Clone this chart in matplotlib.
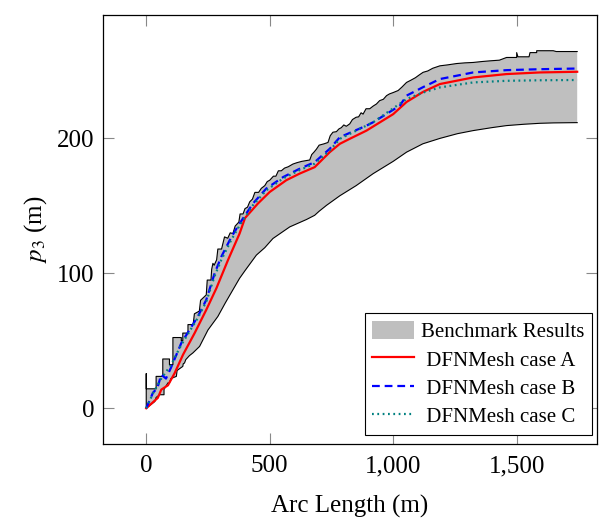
import matplotlib.pyplot as plt
import matplotlib.ticker as mticker
from matplotlib.patches import Patch
from matplotlib.lines import Line2D
import numpy as np

plt.rcParams['font.family'] = ['Liberation Serif', 'DejaVu Serif']
plt.rcParams['mathtext.fontset'] = 'stix'

# benchmark envelope, upper (jagged) and lower boundary
upper_x = [0, 0, 0, 40, 40, 67, 67, 94, 94, 108, 108, 142, 142, 148, 148, 169, 169, 190, 195, 215,
           220, 243, 247, 262, 265, 270, 275, 285, 290, 305, 317, 330, 340, 351, 360, 375, 380, 392,
           400, 410, 419, 430, 440, 455, 466, 480, 490, 500, 515, 525, 535, 547, 560, 575, 594, 610,
           630, 662, 670, 680, 689, 700, 720, 736, 745, 756, 770, 780, 790, 800, 810, 824, 835, 850,
           860, 870, 878, 890, 905, 919, 932, 945, 960, 973, 985, 1000, 1020, 1035, 1054, 1070, 1090,
           1105, 1121, 1140, 1160, 1189, 1220, 1257, 1290, 1324, 1360, 1392, 1430, 1459, 1500, 1500,
           1505, 1550, 1554, 1581, 1581, 1648, 1660, 1745]
upper_y = [0, 25.6, 14.4, 14.4, 23.6, 23.6, 36.5, 36.5, 32.3, 32.3, 52.4, 52.4, 50, 50, 55.7, 55.7,
           62, 62, 70, 72, 80, 84, 95, 95, 103, 107.4, 106, 110, 118, 118, 127, 126, 130, 129.5, 135,
           138, 144, 144, 148, 149, 153, 155, 160, 160, 163, 165, 168, 169, 172, 172, 176, 176, 178,
           179, 181, 182, 183, 184, 188, 190, 192, 195, 196, 197, 202, 204.6, 205, 207, 208, 210, 209,
           210.8, 214, 215.7, 216, 219, 218, 222, 222, 224, 225.5, 228, 229, 231.7, 233, 234, 235.5,
           238, 241.5, 243, 245, 247, 249, 250, 252, 253.8, 254.5, 255.5, 256, 256.3, 257, 257.5, 258,
           260, 260, 263.6, 260.5, 260.5, 263.6, 263.6, 265, 265, 264.4, 264.4]
lower_x = [0, 35, 40, 55, 72, 72, 88, 94, 100, 122, 125, 148, 150, 155, 160, 175, 189, 216, 250, 290,
           320, 358, 378, 400, 446, 480, 513, 581, 649, 682, 700, 730, 784, 850, 919, 1000, 1054, 1120,
           1189, 1260, 1324, 1400, 1459, 1530, 1594, 1650, 1745]
lower_y = [0, 5, 8, 10, 10, 14, 18.8, 18.7, 22, 23.6, 28, 31, 33, 33.5, 36, 39, 41, 45.8, 58, 68,
           78, 90, 96.3, 102, 113.5, 119, 125.8, 134.4, 139.9, 143, 146, 150.4, 157.5, 165, 173.9,
           183, 189.8, 196, 200, 203.5, 205.8, 208, 209.5, 210.5, 211.2, 211.5, 211.7]

case_a_x = [0, 47, 61, 88, 115, 149, 196, 243, 284, 331, 378, 400, 452, 500, 567, 621, 682, 743,
            784, 824, 892, 1000, 1054, 1121, 1189, 1324, 1459, 1594, 1745]
case_a_y = [0, 7.7, 13.8, 17, 26, 39.7, 55.7, 72.9, 88.9, 109.8, 129.5, 141, 151.7, 160.3, 169,
            173.9, 178.7, 189.8, 196, 199.7, 205.8, 218, 227, 234.5, 240.3, 245.2, 247.7, 248.9, 249.4]

case_b_x = [0, 27, 45, 61, 80, 100, 142, 175, 209, 243, 277, 304, 345, 378, 432, 486, 554, 621,
            682, 743, 784, 892, 919, 1027, 1054, 1121, 1189, 1324, 1459, 1594, 1745]
case_b_y = [0, 11.4, 15, 24.9, 22, 30, 48.3, 58, 68, 80.3, 100, 112.3, 127, 136.9, 151.7, 162.8,
            171.3, 177.5, 182.4, 192.3, 200.9, 209.5, 212, 224.3, 231.7, 238, 244, 248.9, 250.6,
            251.3, 251.8]

case_c_x = [0, 30, 61, 100, 142, 209, 243, 277, 304, 345, 378, 432, 486, 554, 621, 682, 743, 784,
            919, 1054, 1121, 1189, 1324, 1459, 1594, 1745]
case_c_y = [0, 12, 22, 32, 47, 67, 79, 98, 110, 125, 135.5, 150.5, 161.5, 170.3, 176.5, 181.3, 191,
            199.7, 212, 229.2, 234, 237.8, 241.5, 242.7, 243.1, 243.3]

fig = plt.figure(figsize=(6.11, 5.18), dpi=100)
ax = fig.add_axes([0.1686, 0.1429, 0.8084, 0.8282])

poly_x = np.concatenate([upper_x, lower_x[::-1]])
poly_y = np.concatenate([upper_y, lower_y[::-1]])
ax.fill(poly_x, poly_y, facecolor='#bfbfbf', edgecolor='none', zorder=1)
ax.plot(upper_x, upper_y, color='black', linewidth=0.8, zorder=2)
ax.plot(lower_x, lower_y, color='black', linewidth=0.8, zorder=2)

ax.plot(case_a_x, case_a_y, color='red', linewidth=1.6, zorder=3)
ax.plot(case_b_x, case_b_y, color='blue', linewidth=1.6, linestyle=(0, (3.5, 2.2)), zorder=4)
ax.plot(case_c_x, case_c_y, color='#008080', linewidth=1.6, linestyle=(0, (0.8, 1.6)), zorder=5)

ax.set_xlim(-175, 1825)
ax.set_ylim(-26.5, 291.5)
ax.set_xticks([0, 500, 1000, 1500])
ax.set_yticks([0, 100, 200])
ax.xaxis.set_major_formatter(mticker.FuncFormatter(lambda v, p: f'{int(v):,}'))
ax.tick_params(direction='in', length=8, width=0.8, color='#888888', labelsize=18,
               top=True, right=True, pad=8)
ax.tick_params(axis='y', pad=6)
for s in ax.spines.values():
    s.set_linewidth(0.9)

ax.set_xlabel('Arc Length (m)', fontsize=18, labelpad=13)
ax.set_ylabel('$p_3$ (m)', fontsize=18, labelpad=6)

handles = [Patch(facecolor='#bfbfbf', edgecolor='none'),
           Line2D([], [], color='red', linewidth=1.6),
           Line2D([], [], color='blue', linewidth=1.6, linestyle=(0, (3.5, 2.2))),
           Line2D([], [], color='#008080', linewidth=1.6, linestyle=(0, (0.8, 1.6)))]
labels = ['Benchmark Results', ' DFNMesh case A', ' DFNMesh case B', ' DFNMesh case C']
leg = ax.legend(handles, labels, loc='lower right', bbox_to_anchor=(0.99, 0.022), fontsize=15,
                frameon=True, fancybox=False, edgecolor='black', framealpha=1, borderpad=0.35,
                handlelength=2.0, handleheight=1.0, handletextpad=0.35, labelspacing=0.33,
                borderaxespad=0)
leg.get_frame().set_linewidth(0.8)

fig.savefig('out.png', dpi=100)
